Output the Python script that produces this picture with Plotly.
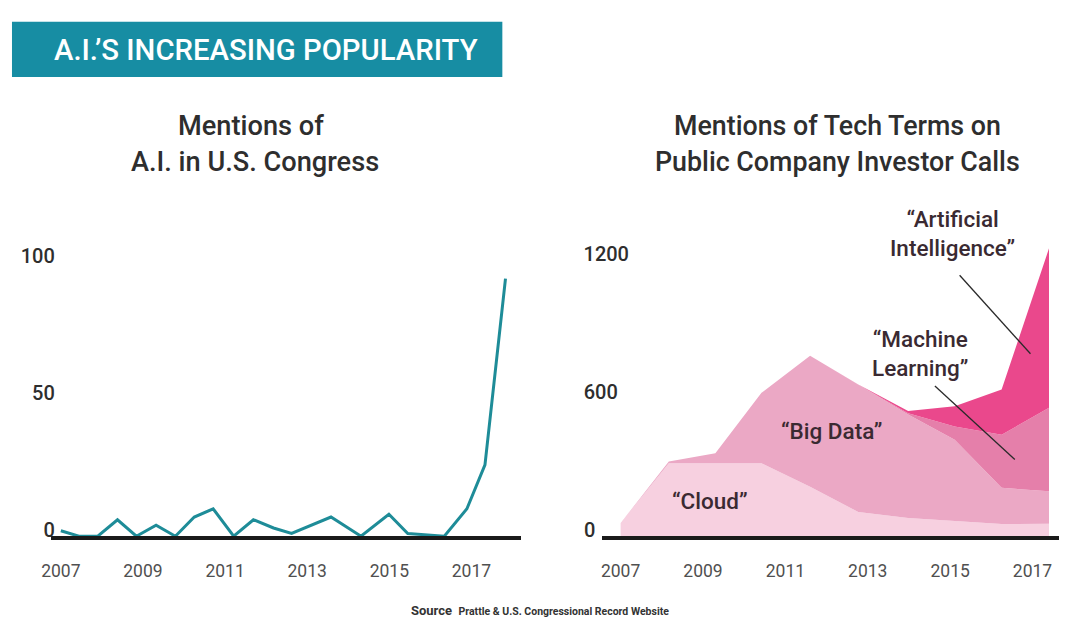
import plotly.graph_objects as go

W, H = 1067, 621

# ---------------- data ----------------
# Left: mentions of A.I. in U.S. Congress
congress_years = [2007.0, 2007.44, 2007.9, 2008.38, 2008.84, 2009.32, 2009.79, 2010.25,
                  2010.71, 2011.21, 2011.69, 2012.18, 2012.62, 2013.09, 2013.58, 2014.31,
                  2014.99, 2015.45, 2016.34, 2016.89, 2017.33, 2017.83]
congress_mentions = [2, 0, 0, 6, 0, 4, 0, 7, 10, 0, 6, 3, 1, 4, 7, 0, 8, 1, 0, 10, 26, 94]
left_ticks = [0, 50, 100]

# Right: mentions of tech terms on public company investor calls (stacked)
call_years = [2007.0, 2008.17, 2009.30, 2010.42, 2011.60, 2012.77, 2013.98, 2015.11, 2016.25, 2017.40]
cloud = [57, 317, 317, 317, 215, 105, 79, 66, 53, 54]
big_data = [0, 8, 43, 306, 569, 554, 450, 353, 157, 141]
machine_learning = [0, 0, 0, 0, 0, 0, 5, 58, 231, 363]
artificial_intelligence = [0, 0, 0, 0, 0, 0, 10, 88, 197, 693]
right_ticks = [0, 600, 1200]

year_ticks = [2007, 2009, 2011, 2013, 2015, 2017]

# ---------------- styling ----------------
FONT = "Roboto"
TEAL = "#178DA3"
LINE_TEAL = "#1E8C98"
C_CLOUD = "#F7D0E0"
C_BIG = "#EBA8C5"
C_ML = "#E57FAA"
C_AI = "#EA488C"
DARK = "#2E2E2E"


def px(x):
    return x / W


def py(y):
    return 1 - y / H


fig = go.Figure()

fig.add_trace(go.Scatter(
    x=congress_years, y=congress_mentions, mode="lines",
    line=dict(color=LINE_TEAL, width=3), xaxis="x", yaxis="y",
    showlegend=False, hoverinfo="skip"))

for name, vals, col in [("Cloud", cloud, C_CLOUD), ("Big Data", big_data, C_BIG),
                        ("Machine Learning", machine_learning, C_ML),
                        ("Artificial Intelligence", artificial_intelligence, C_AI)]:
    fig.add_trace(go.Scatter(
        x=call_years, y=vals, mode="lines", name=name, stackgroup="one",
        line=dict(width=0), fillcolor=col, xaxis="x2", yaxis="y2",
        showlegend=False, hoverinfo="skip"))

axis_common = dict(showgrid=False, zeroline=False, ticks="")
widest = max(len(str(v)) for v in right_ticks)
right_ticktext = [str(v) + "\u2007" * (widest - len(str(v))) for v in right_ticks]

fig.update_layout(
    width=W, height=H,
    margin=dict(l=0, r=0, t=0, b=0),
    paper_bgcolor="white", plot_bgcolor="white",
    font=dict(family=FONT, color=DARK),
    xaxis=dict(domain=[px(41.2), px(516.1)], range=[2006.756, 2018.214], anchor="y",
               showline=True, linewidth=4, linecolor="#1a1a1a",
               tickvals=year_ticks, ticklabelstandoff=16,
               tickfont=dict(family=FONT, size=17.5, color="#505050"), **axis_common),
    yaxis=dict(domain=[py(540.5), py(250)], range=[0, 103.79], anchor="x",
               showline=False, tickvals=left_ticks, ticklabelstandoff=-5,
               ticklabelshift=-6,
               tickfont=dict(family=FONT, size=20, color=DARK, weight=500), **axis_common),
    xaxis2=dict(domain=[px(597.6), px(1059.4)], range=[2006.548, 2017.654], anchor="y2",
                showline=True, linewidth=4, linecolor="#1a1a1a",
                tickvals=year_ticks, ticklabelstandoff=16,
                tickfont=dict(family=FONT, size=17.5, color="#505050"), **axis_common),
    yaxis2=dict(domain=[py(540.5), py(235)], range=[0, 1300], anchor="x2",
                showline=False, tickvals=right_ticks, ticktext=right_ticktext,
                ticklabelstandoff=-28, ticklabelshift=-6,
                tickfont=dict(family=FONT, size=20, color=DARK, weight=500), **axis_common),
)

# Banner
fig.add_shape(type="rect", xref="paper", yref="paper",
              x0=px(2), x1=px(497), y0=py(71.4), y1=py(15),
              fillcolor=TEAL, line=dict(width=0), layer="below")

annos = []
annos.append(dict(text="A.I.’S INCREASING POPULARITY", x=px(258), y=py(43.8),
                  font=dict(size=29.3, color="white", weight=500)))
tfont = dict(size=27.2, color=DARK, weight=500)
annos.append(dict(text="Mentions of", x=px(243.5), y=py(121.8), font=tfont))
annos.append(dict(text="A.I. in U.S. Congress", x=px(247.5), y=py(158.8), font=tfont))
tfont_r = dict(size=26.8, color=DARK, weight=500)
annos.append(dict(text="Mentions of Tech Terms on", x=px(835), y=py(121.8), font=tfont_r))
annos.append(dict(text="Public Company Investor Calls", x=px(835), y=py(158.8), font=tfont_r))
lab_font = dict(size=22.5, color="#3A2A32", weight=500)
annos.append(dict(text="“Artificial<br>Intelligence”", x=px(951.7), y=py(231.5), font=lab_font))
annos.append(dict(text="“Machine<br>Learning”", x=px(918.5), y=py(353.5), font=lab_font))
annos.append(dict(text="“Big Data”", x=px(829), y=py(432.7), font=lab_font))
annos.append(dict(text="“Cloud”", x=px(706.2), y=py(504.7), font=lab_font))
annos.append(dict(text="<b>Source</b>  <b><span style='font-size:10.5px'>Prattle &amp; U.S. Congressional Record Website</span></b>",
                  x=px(535), y=py(616), font=dict(size=13, color="#333")))

for a in annos:
    fig.add_annotation(xref="paper", yref="paper", showarrow=False,
                       xanchor="center", yanchor="middle", **a)

# Leader lines (data coordinates of the right chart)
fig.add_shape(type="line", xref="x2", yref="y2", x0=2015.23, y0=1134, x1=2016.95, y1=793,
              line=dict(color="#2a2a2a", width=1.3))
fig.add_shape(type="line", xref="x2", yref="y2", x0=2014.63, y0=653, x1=2016.57, y1=333,
              line=dict(color="#2a2a2a", width=1.3))

fig.write_html("out.html")
